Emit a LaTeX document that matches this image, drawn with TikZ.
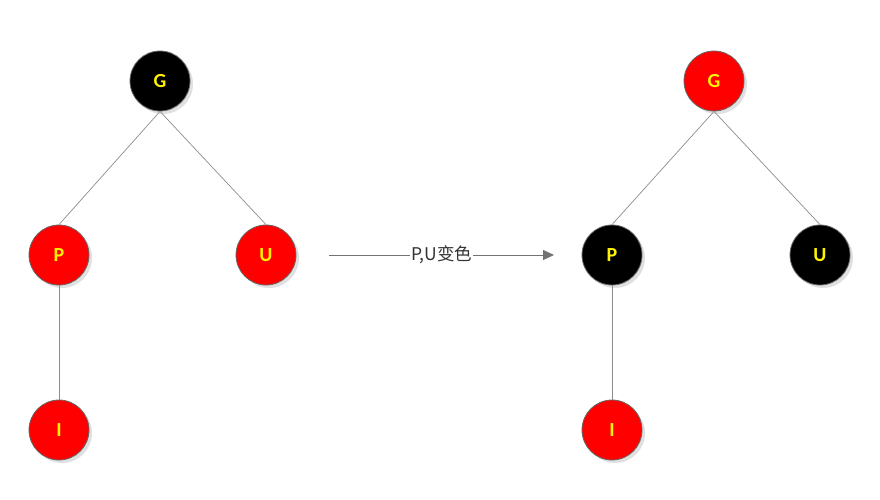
\documentclass[tikz,border=0pt]{standalone}
\usepackage{fontspec}
\setmainfont{Carlito}
\newfontfamily\cjk{Noto Sans CJK SC}
\usetikzlibrary{arrows.meta,shadows}
\begin{document}
\begin{tikzpicture}[x=1pt,y=-1pt,
  rbnode/.style={circle,minimum size=60pt,inner sep=0pt,draw=black!60,line width=0.8pt,
    text=yellow,font=\fontsize{20}{20}\selectfont\bfseries,
    drop shadow={shadow xshift=3pt,shadow yshift=-3pt,fill=black!12,opacity=1}},
  rednode/.style={rbnode,fill=red},
  blacknode/.style={rbnode,fill=black},
  edge/.style={draw=black!45,line width=0.7pt},
  arrowline/.style={draw=black!55,line width=1pt,-{Triangle[length=11pt,width=10pt]}},
  lbl/.style={fill=white,inner sep=1pt,text=black!80,font=\cjk\fontsize{17.5}{17.5}\selectfont}]
\useasboundingbox (0,0) rectangle (880,500);
% left tree
\node[blacknode] (G1) at (160,81) {G};
\node[rednode] (P1) at (59,255) {P};
\node[rednode] (U1) at (266,255) {U};
\node[rednode] (I1) at (59,430) {I};
\draw[edge] (G1.south) -- (P1.north);
\draw[edge] (G1.south) -- (U1.north);
\draw[edge] (P1.south) -- (I1.north);
% right tree
\node[rednode] (G2) at (714,81) {G};
\node[blacknode] (P2) at (612,255) {P};
\node[blacknode] (U2) at (820,255) {U};
\node[rednode] (I2) at (612,430) {I};
\draw[edge] (G2.south) -- (P2.north);
\draw[edge] (G2.south) -- (U2.north);
\draw[edge] (P2.south) -- (I2.north);
% transition arrow
\coordinate (A) at (329,255);
\coordinate (B) at (554,255);
\draw[arrowline] (A) -- (B) node[midway,lbl] (L) {P,U变色};
\end{tikzpicture}
\end{document}
